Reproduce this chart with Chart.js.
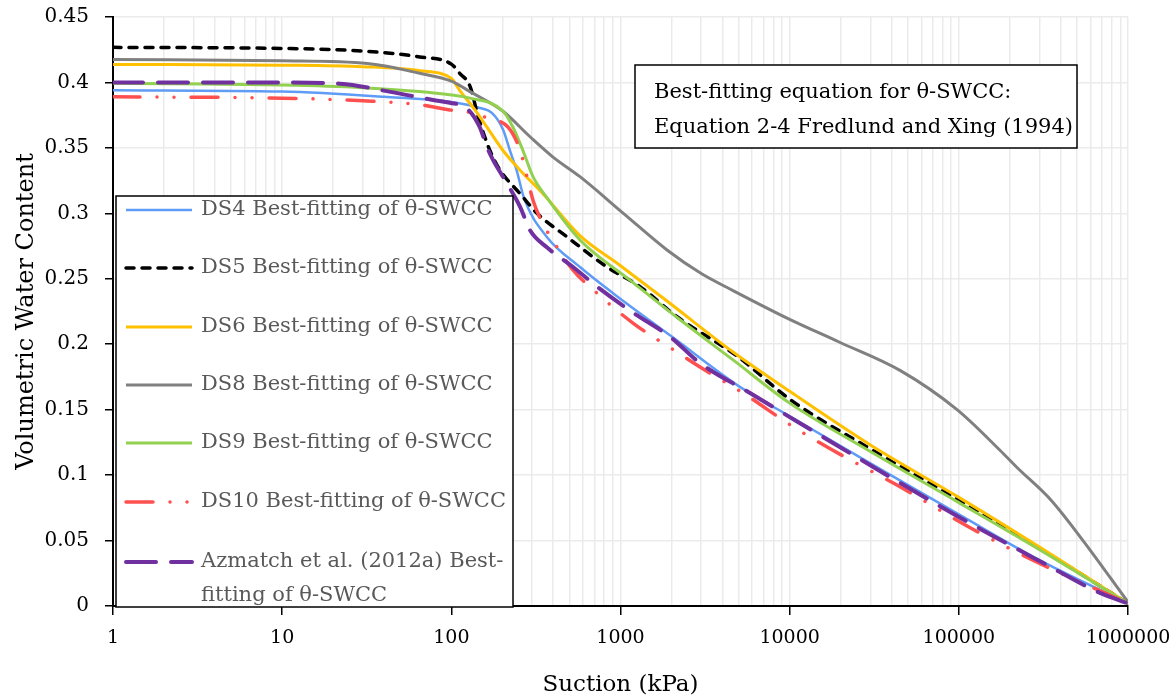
<!DOCTYPE html>
<html>
<head>
<meta charset="utf-8">
<script src="https://cdn.jsdelivr.net/npm/chart.js@4.4.1/dist/chart.umd.min.js"></script>
<style>
  html, body { margin: 0; padding: 0; background: #fff; }
  #wrap { width: 1175px; height: 700px; position: relative; }
</style>
</head>
<body>
<div id="wrap"><canvas id="c"></canvas></div>
<script>
// θ-SWCC best-fit curves (Fredlund & Xing 1994), suction on a log axis.
const FONT = '"DejaVu Serif", "Liberation Serif", serif';

// suction (kPa) / volumetric water content
const ds4X = [1, 10, 40, 100, 142, 176, 202, 222, 243, 270, 367, 576, 903, 2000, 5000, 10000, 30000, 100000, 300000, 1000000];
const ds4Y = [0.394, 0.393, 0.389, 0.385, 0.381, 0.376, 0.364, 0.348, 0.333, 0.311, 0.282, 0.259, 0.239, 0.206, 0.168, 0.145, 0.109, 0.070, 0.035, 0.002];

const ds5X = [1, 10, 30, 65, 100, 112, 129, 144, 169, 194, 255, 321, 483, 832, 1303, 2158, 5000, 10000, 30000, 100000, 300000, 1000000];
const ds5Y = [0.4268, 0.426, 0.424, 0.4195, 0.414, 0.407, 0.397, 0.374, 0.348, 0.333, 0.315, 0.300, 0.282, 0.259, 0.244, 0.221, 0.190, 0.158, 0.120, 0.081, 0.044, 0.002];

const ds6X = [1, 10, 30, 65, 100, 112, 138, 162, 202, 255, 348, 576, 1000, 1883, 4625, 10000, 30000, 100000, 300000, 1000000];
const ds6Y = [0.4138, 0.4132, 0.412, 0.409, 0.403, 0.394, 0.379, 0.366, 0.348, 0.333, 0.315, 0.283, 0.260, 0.233, 0.194, 0.164, 0.123, 0.083, 0.045, 0.002];

const ds8X = [1, 10, 32, 65, 100, 129, 202, 292, 399, 576, 1040, 1883, 3000, 4625, 10000, 19600, 44900, 97600, 175000, 220000, 350000, 542000, 1000000];
const ds8Y = [0.4175, 0.4165, 0.4145, 0.407, 0.401, 0.393, 0.378, 0.3585, 0.343, 0.328, 0.300, 0.272, 0.254, 0.241, 0.219, 0.2017, 0.180, 0.150, 0.119, 0.106, 0.081, 0.050, 0.003];

const ds9X = [1, 10, 30, 65, 129, 202, 231, 265, 304, 367, 576, 1137, 2260, 4625, 10000, 30000, 100000, 300000, 1000000];
const ds9Y = [0.3993, 0.398, 0.396, 0.393, 0.388, 0.378, 0.366, 0.348, 0.328, 0.312, 0.2796, 0.249, 0.2185, 0.188, 0.155, 0.118, 0.079, 0.043, 0.002];

const ds10X = [1, 10, 30, 65, 98, 124, 162, 216, 243, 262, 280, 304, 333, 420, 524, 727, 1190, 2158, 2950, 5300, 10470, 18000, 46500, 116000, 274000, 1000000];
const ds10Y = [0.389, 0.388, 0.386, 0.383, 0.379, 0.3776, 0.373, 0.366, 0.355, 0.343, 0.328, 0.310, 0.297, 0.2745, 0.2567, 0.239, 0.216, 0.194, 0.1826, 0.1627, 0.137, 0.119, 0.090, 0.060, 0.035, 0.002];

const azmX = [1, 10, 22, 43, 78, 98, 124, 147, 162, 176, 213, 255, 292, 367, 524, 727, 1190, 1970, 2950, 5830, 11380, 100000, 314000, 683000, 1000000];
const azmY = [0.400, 0.400, 0.399, 0.393, 0.3866, 0.3845, 0.380, 0.366, 0.351, 0.341, 0.323, 0.305, 0.287, 0.274, 0.259, 0.244, 0.224, 0.2055, 0.1856, 0.1627, 0.140, 0.068, 0.033, 0.010, 0.002];

const seriesLabels = [
  ["DS4 Best-fitting of θ-SWCC"],
  ["DS5 Best-fitting of θ-SWCC"],
  ["DS6 Best-fitting of θ-SWCC"],
  ["DS8 Best-fitting of θ-SWCC"],
  ["DS9 Best-fitting of θ-SWCC"],
  ["DS10 Best-fitting of θ-SWCC"],
  ["Azmatch et al. (2012a) Best-", "fitting of θ-SWCC"],
];
const decadeTicks = [1, 10, 100, 1000, 10000, 100000, 1000000];
const noteLines = ["Best-fitting equation for θ-SWCC:", "Equation 2-4 Fredlund and Xing (1994)"];

const styles = [
  { color: "#5f9cf5", width: 2.5, dash: [] },
  { color: "#000000", width: 3.5, dash: [8, 8] },
  { color: "#ffc000", width: 3, dash: [] },
  { color: "#808080", width: 3, dash: [] },
  { color: "#92d050", width: 3, dash: [] },
  { color: "#ff5050", width: 3.5, dash: [27, 17, 0.01, 17, 0.01, 17] },
  { color: "#7030a0", width: 4, dash: [30, 15] },
];

const xs = [ds4X, ds5X, ds6X, ds8X, ds9X, ds10X, azmX];
const ys = [ds4Y, ds5Y, ds6Y, ds8Y, ds9Y, ds10Y, azmY];

const datasets = xs.map((xArr, i) => ({
  label: seriesLabels[i].join(" "),
  data: xArr.map((x, j) => ({ x, y: ys[i][j] })),
  borderColor: styles[i].color,
  borderWidth: styles[i].width,
  borderDash: styles[i].dash,
  borderCapStyle: styles[i].dash.length ? "round" : "butt",
  pointRadius: 0,
  cubicInterpolationMode: "monotone",
  fill: false,
  order: xs.length - i, // later series on top, like the source
}));

// legend box + note box drawn on top of the plot
const overlay = {
  id: "overlay",
  afterDraw(chart) {
    const c = chart.ctx;
    c.save();
    // legend
    c.fillStyle = "#fff";
    c.fillRect(116, 196, 397, 411);
    c.strokeStyle = "#000";
    c.lineWidth = 1.5;
    c.strokeRect(116, 196, 397, 411);
    const rows = [210, 268, 327, 385, 443, 502, 562];
    c.font = "21px " + FONT;
    c.textBaseline = "middle";
    c.textAlign = "left";
    rows.forEach((y, i) => {
      const s = styles[i];
      c.beginPath();
      c.strokeStyle = s.color;
      c.lineWidth = s.width;
      c.setLineDash(s.dash);
      c.lineCap = s.dash.length ? "round" : "butt";
      c.moveTo(126, y);
      c.lineTo(192, y);
      c.stroke();
      c.setLineDash([]);
      c.fillStyle = "#595959";
      seriesLabels[i].forEach((t, k) => c.fillText(t, 201, y + k * 34));
    });
    // note box
    c.fillStyle = "#fff";
    c.fillRect(635, 65, 442, 83);
    c.strokeStyle = "#000";
    c.lineWidth = 1.5;
    c.strokeRect(635, 65, 442, 83);
    c.fillStyle = "#000";
    noteLines.forEach((t, k) => c.fillText(t, 654, 93 + k * 35));
    c.restore();
  },
};

new Chart(document.getElementById("c"), {
  type: "line",
  data: { datasets },
  options: {
    responsive: true,
    maintainAspectRatio: false,
    animation: false,
    layout: { padding: { left: 0, right: 47, top: 17, bottom: 0 } },
    plugins: { legend: { display: false }, tooltip: { enabled: false } },
    scales: {
      x: {
        type: "logarithmic",
        min: 1,
        max: 1000000,
        afterFit: (s) => {
          s.height = 94;
          s.paddingLeft = 0;
          s.paddingRight = 0;
        },
        afterBuildTicks: (s) => {
          const t = [];
          decadeTicks.forEach((d) => {
            for (let m = 1; m <= 9; m++) {
              const v = d * m;
              if (v <= 1000000) t.push({ value: v, major: m === 1 });
            }
          });
          s.ticks = t;
        },
        ticks: {
          autoSkip: false,
          maxRotation: 0,
          padding: 12,
          color: "#000",
          font: { family: FONT, size: 19 },
          callback: (v) => (decadeTicks.includes(v) ? String(v) : ""),
        },
        grid: {
          color: "#ebebeb",
          lineWidth: 1.5,
          tickLength: 9,
          tickWidth: 1.5,
          tickColor: (ctx) => (ctx.tick && decadeTicks.includes(ctx.tick.value) ? "#000" : "rgba(0,0,0,0)"),
        },
        border: { color: "#000", width: 2 },
        title: {
          display: true,
          text: "Suction (kPa)",
          color: "#000",
          font: { family: FONT, size: 23 },
          padding: { top: 0, bottom: 1 },
        },
      },
      y: {
        min: 0,
        max: 0.45,
        afterFit: (s) => {
          s.width = 113;
          s.paddingTop = 0;
          s.paddingBottom = 0;
        },
        ticks: {
          stepSize: 0.05,
          padding: 16,
          color: "#000",
          font: { family: FONT, size: 20 },
          callback: (v) => String(+v.toFixed(2)),
        },
        grid: { color: "#ebebeb", lineWidth: 1.5, tickLength: 8, tickColor: "#000", tickWidth: 1.5 },
        border: { color: "#000", width: 2 },
        title: {
          display: true,
          text: "Volumetric Water Content",
          color: "#000",
          font: { family: FONT, size: 24 },
          padding: { top: 12, bottom: 0 },
        },
      },
    },
  },
  plugins: [overlay],
});
</script>
</body>
</html>
